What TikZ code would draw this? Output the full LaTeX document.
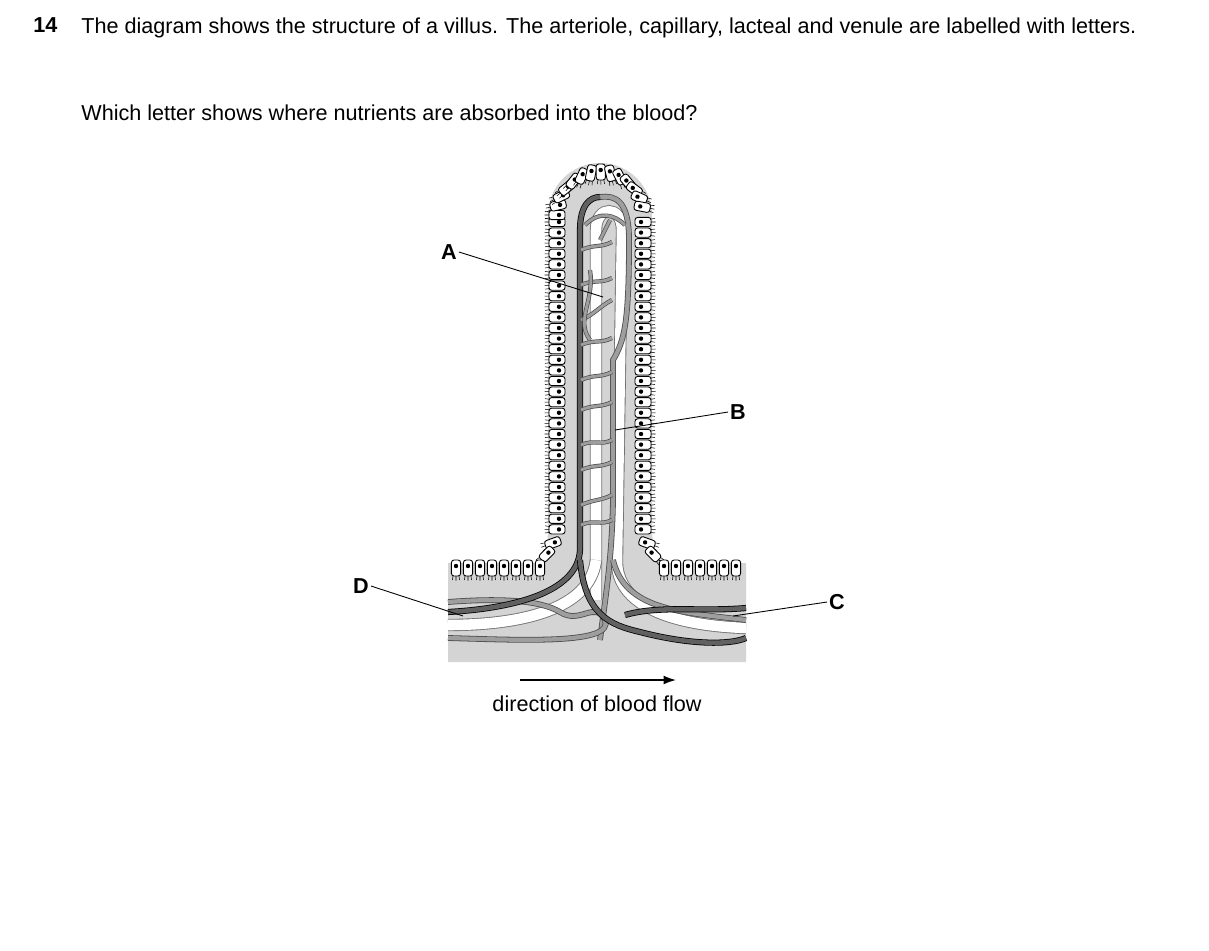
\documentclass[tikz,border=0pt]{standalone}
\usepackage{fontspec}
\setmainfont{Liberation Sans}
\usetikzlibrary{arrows.meta}
\begin{document}
\begin{tikzpicture}[x=0.02cm,y=-0.02cm,
  txt/.style={inner sep=0pt,font=\fontsize{12.3}{16.5}\selectfont},
  lbl/.style={inner sep=1pt,font=\fontsize{12.3}{14}\selectfont\bfseries},
  lead/.style={line width=0.5pt},
  dark/.style={line width=0.45pt,draw=black,double=black!62,double distance=2.6pt},
  light/.style={line width=0.45pt,draw=black!70,double=black!38,double distance=2.4pt},
  thinv/.style={line width=0.4pt,draw=black!70,double=black!38,double distance=1.6pt},
  lact/.style={line width=0.5pt,draw=black!55,double=white,double distance=6pt}]
\useasboundingbox (0,0) rectangle (1209,950);
% text
\node[txt,anchor=north west,font=\fontsize{12.3}{16.5}\selectfont\bfseries] (num) at (33,17) {14};
\node[txt,anchor=north west,text width=21.74cm,align=justify] (q1) at (81,17) {The diagram shows the structure of a villus. The arteriole, capillary, lacteal and venule are labelled with letters.};
\node[txt,anchor=north west] (q2) at (81,104) {Which letter shows where nutrients are absorbed into the blood?};
% tissue
\fill[black!17] (448,563) -- (535,563) .. controls (546,560) and (548,545) .. (548,525) -- (548,215)
  arc[start angle=180,end angle=360,x radius=52,y radius=52] -- (652,525)
  .. controls (652,545) and (655,560) .. (666,563) -- (746,563) -- (746,662) -- (448,662) -- cycle;
% cells
\newcommand{\vcell}[3]{%
 \begin{scope}[shift={({#1},{#2})},rotate=#3]
  \draw[fill=white,line width=0.5pt,rounded corners=1.5pt] (-8,-4.6) rectangle (8,4.6);
  \fill (-2,0) circle (2.2);
  \draw[line width=0.3pt] (8,-3)--(12,-3.6) (8,0)--(12.5,0) (8,3)--(12,3.6);
 \end{scope}}
\foreach \y in {222,232.6,...,530} {\vcell{557}{\y}{180}\vcell{643}{\y}{0}}
\foreach \a in {180,193,...,360} {\vcell{600+43*cos(\a)}{215+43*sin(\a)}{\a}}
\vcell{553}{543}{200}\vcell{547}{554}{225}\vcell{647}{543}{-20}\vcell{653}{554}{-45}
\foreach \x in {456,468,...,540} {\vcell{\x}{568}{270}}
\foreach \x in {664,676,...,742} {\vcell{\x}{568}{270}}
% lacteal
\draw[lact] (596,600) -- (596,230) .. controls (596,205) and (622,205) .. (622,230) -- (617,560) .. controls (616,600) and (660,625) .. (746,628);
\draw[lact] (596,560) .. controls (590,610) and (520,625) .. (448,625);
% light vessel (venule side)
\draw[light] (600,640) .. controls (605,600) and (612,560) .. (613,500) -- (613,360) .. controls (625,340) and (629,320) .. (629,240)
  .. controls (629,200) and (615,195) .. (600,197);
\draw[light] (613,560) .. controls (625,610) and (680,612) .. (746,620);
\draw[light] (448,602) .. controls (500,598) and (540,600) .. (560,612) .. controls (580,625) and (595,600) .. (605,620) .. controls (615,645) and (520,640) .. (448,638);
% dark vessel (arteriole side)
\draw[dark] (448,612) .. controls (520,608) and (578,590) .. (580,550) -- (580,230) .. controls (580,205) and (590,197) .. (600,197);
\draw[dark] (580,560) .. controls (585,615) and (610,625) .. (640,632) .. controls (690,645) and (730,645) .. (746,638);
\draw[dark] (746,608) .. controls (700,612) and (660,605) .. (625,615);
% capillary network
\foreach \ya/\yb in {250/242,285/278,320/300,345/338,380/372,410/402,445/440,470/462,505/495,525/520}
  \draw[thinv] (581,\ya) .. controls (595,\ya-6) and (600,\yb+6) .. (612,\yb);
\draw[thinv] (585,225) .. controls (600,210) and (615,215) .. (625,225);
\draw[thinv] (590,270) .. controls (595,300) and (575,320) .. (590,340);
\draw[thinv] (610,220) -- (600,240);
% labels
\node[lbl] (A) at (449,252) {A};
\coordinate (a) at (603,297);
\draw[lead] (A.east) -- (a);
\node[lbl] (B) at (738,412) {B};
\coordinate (b) at (615,430);
\draw[lead] (B.west) -- (b);
\node[lbl] (D) at (361,586) {D};
\coordinate (d) at (463,616);
\draw[lead] (D.east) -- (d);
\node[lbl] (C) at (837,602) {C};
\coordinate (c) at (733,616);
\draw[lead] (C.west) -- (c);
\coordinate (f1) at (520,680);
\coordinate (f2) at (676,680);
\draw[line width=0.8pt,-{Latex[length=7pt,width=5pt]}] (f1) -- (f2);
\node[txt] (flow) at (597,704) {direction of blood flow};
\end{tikzpicture}
\end{document}
